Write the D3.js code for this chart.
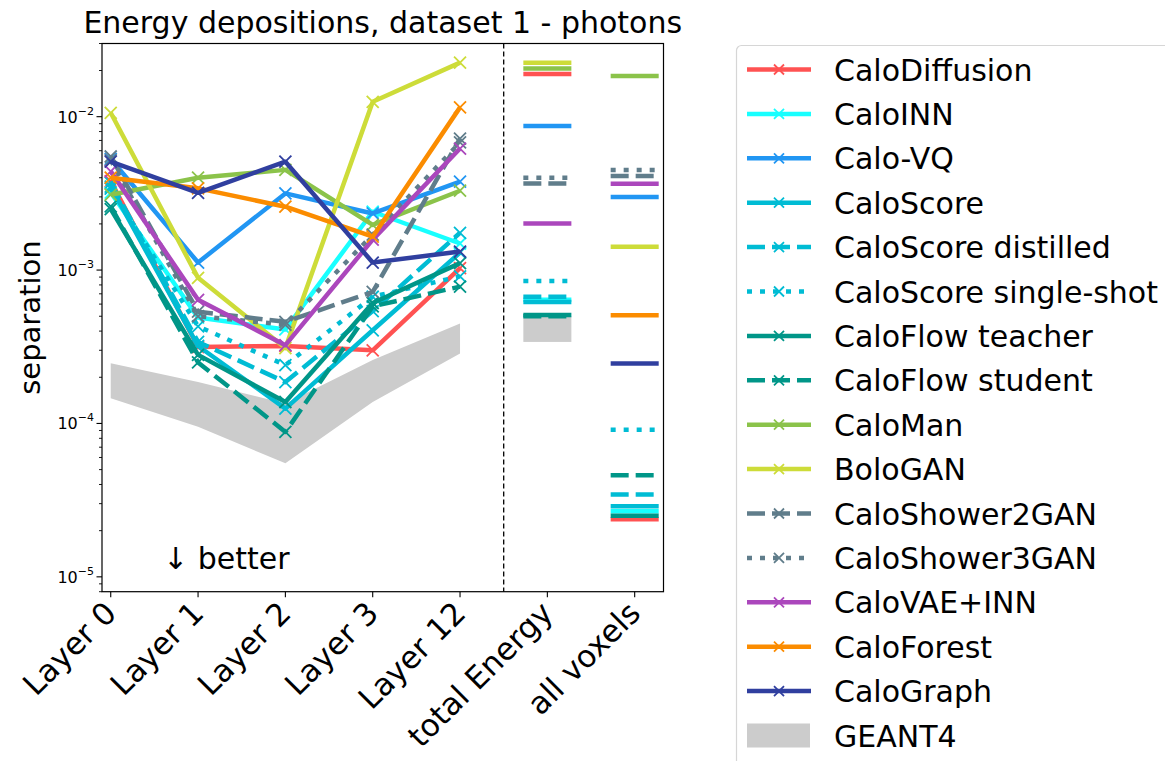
<!DOCTYPE html>
<html><head><meta charset="utf-8">
<script src="https://cdn.jsdelivr.net/npm/d3@7"></script>
<style>body{margin:0;background:#fff;} svg{display:block;font-family:"DejaVu Sans",sans-serif;}</style>
</head><body><svg id="c" width="1165" height="761"></svg>
<script>
const categories = ["Layer 0","Layer 1","Layer 2","Layer 3","Layer 12","total Energy","all voxels"];
const models = ["CaloDiffusion","CaloINN","Calo-VQ","CaloScore","CaloScore distilled","CaloScore single-shot","CaloFlow teacher","CaloFlow student","CaloMan","BoloGAN","CaloShower2GAN","CaloShower3GAN","CaloVAE+INN","CaloForest","CaloGraph"];
const colors = ["#ff5252","#18ffff","#2196f3","#00bcd4","#00bcd4","#00bcd4","#009688","#009688","#8bc34a","#cddc39","#607d8b","#607d8b","#ab47bc","#fb8c00","#303f9f"];
const styles = ["solid","solid","solid","solid","dashed","dotted","solid","dashed","solid","solid","dashed","dotted","solid","solid","solid"];
// values per model: Layer 0, Layer 1, Layer 2, Layer 3, Layer 12, total Energy, all voxels
const caloDiffusion      = [3.8e-3, 3.15e-4, 3.2e-4, 3.0e-4, 1.03e-3, 1.9e-2, 2.37e-5];
const caloINN            = [3.2e-3, 4.9e-4, 4.1e-4, 2.4e-3, 1.49e-3, 6.4e-4, 2.68e-5];
const caloVQ             = [5.3e-3, 1.12e-3, 3.16e-3, 2.34e-3, 3.77e-3, 8.7e-3, 3.0e-3];
const caloScore          = [3.5e-3, 3.2e-4, 1.25e-4, 4.05e-4, 1.3e-3, 6.2e-4, 2.89e-5];
const caloScoreDistilled = [3.7e-3, 3.4e-4, 1.86e-4, 5.4e-4, 1.75e-3, 6.7e-4, 3.44e-5];
const caloScoreSingle    = [3.4e-3, 4.3e-4, 2.4e-4, 6.7e-4, 9.1e-4, 8.5e-4, 9.1e-5];
const caloFlowTeacher    = [2.5e-3, 2.8e-4, 1.38e-4, 6.1e-4, 1.11e-3, 5.1e-4, 2.5e-5];
const caloFlowStudent    = [2.6e-3, 2.5e-4, 8.8e-5, 5.8e-4, 7.8e-4, 5.0e-4, 4.6e-5];
const caloMan            = [3.1e-3, 4.0e-3, 4.5e-3, 1.97e-3, 3.29e-3, 2.06e-2, 1.84e-2];
const boloGAN            = [1.06e-2, 8.9e-4, 3.1e-4, 1.25e-2, 2.25e-2, 2.25e-2, 1.42e-3];
const caloShower2GAN     = [5.5e-3, 5.35e-4, 4.6e-4, 7.2e-4, 7.2e-3, 3.67e-3, 4.1e-3];
const caloShower3GAN     = [5.2e-3, 5.0e-4, 4.4e-4, 1.7e-3, 6.8e-3, 4.0e-3, 4.49e-3];
const caloVAEINN         = [4.4e-3, 6.4e-4, 3.24e-4, 1.58e-3, 6.2e-3, 2.01e-3, 3.66e-3];
const caloForest         = [4.0e-3, 3.41e-3, 2.59e-3, 1.65e-3, 1.15e-2, null, 5.08e-4];
const caloGraph          = [5.1e-3, 3.19e-3, 5.09e-3, 1.12e-3, 1.32e-3, null, 2.46e-4];
const seriesValues = [caloDiffusion, caloINN, caloVQ, caloScore, caloScoreDistilled, caloScoreSingle, caloFlowTeacher, caloFlowStudent, caloMan, boloGAN, caloShower2GAN, caloShower3GAN, caloVAEINN, caloForest, caloGraph];
// GEANT4 reference band: Layer 0..12, total Energy
const geantLower = [1.46e-4, 9.5e-5, 5.5e-5, 1.38e-4, 2.86e-4, 3.4e-4];
const geantUpper = [2.47e-4, 1.86e-4, 1.35e-4, 2.59e-4, 4.49e-4, 5.0e-4];
const yTickValues = [1e-5, 1e-4, 1e-3, 1e-2];
const yTickExps = ["−5","−4","−3","−2"];

const svg = d3.select("#c");
const L = 102, R = 663.5, T = 43.5, B = 591.7;
const x = d3.scaleLinear().domain([-0.1, 6.33]).range([L, R]);
const y = d3.scaleLog().domain([8e-6, 3e-2]).range([B, T]);
const dashFor = s => s === "dashed" ? "18,7" : s === "dotted" ? "5,8" : null;
const LW = 4.5, HW = 0.275;

// GEANT4 band
const nLayers = 5;
const bandData = d3.range(nLayers).map(i => ({i, lo: geantLower[i], hi: geantUpper[i]}));
svg.append("path").datum(bandData)
  .attr("d", d3.area().x(d => x(d.i)).y0(d => y(d.lo)).y1(d => y(d.hi)))
  .attr("fill", "#cccccc");
svg.append("rect").attr("x", x(5 - HW)).attr("width", x(5 + HW) - x(5 - HW))
  .attr("y", y(geantUpper[5])).attr("height", y(geantLower[5]) - y(geantUpper[5]))
  .attr("fill", "#cccccc");

// dashed separator
svg.append("line").attr("x1", x(4.5)).attr("x2", x(4.5)).attr("y1", T).attr("y2", B)
  .attr("stroke", "#000").attr("stroke-width", 1.3).attr("stroke-dasharray", "5,3");

const line = d3.line().x(d => x(d.i)).y(d => y(d.v));
function xMarker(g, cx, cy, col, s) {
  g.append("path").attr("d", `M${cx-s},${cy-s}L${cx+s},${cy+s}M${cx-s},${cy+s}L${cx+s},${cy-s}`)
    .attr("stroke", col).attr("stroke-width", 1.8).attr("fill", "none");
}
models.forEach((m, k) => {
  const vals = seriesValues[k];
  const g = svg.append("g");
  const pts = d3.range(nLayers).map(i => ({i, v: vals[i]}));
  g.append("path").datum(pts).attr("d", line).attr("fill", "none")
    .attr("stroke", colors[k]).attr("stroke-width", LW).attr("stroke-dasharray", dashFor(styles[k]))
    .attr("stroke-linejoin", "round");
  pts.forEach(p => xMarker(g, x(p.i), y(p.v), colors[k], 6));
  [5, 6].forEach(i => {
    if (vals[i] == null) return;
    g.append("line").attr("x1", x(i - HW)).attr("x2", x(i + HW)).attr("y1", y(vals[i])).attr("y2", y(vals[i]))
      .attr("stroke", colors[k]).attr("stroke-width", LW).attr("stroke-dasharray", dashFor(styles[k]));
  });
});

// frame
svg.append("rect").attr("x", L).attr("y", T).attr("width", R - L).attr("height", B - T)
  .attr("fill", "none").attr("stroke", "#000").attr("stroke-width", 1.2);

// y ticks
const minor = [];
[-6,-5,-4,-3,-2].forEach(e => d3.range(2,10).forEach(mm => { const v = mm * Math.pow(10, e); if (v >= 8e-6 && v <= 3e-2) minor.push(v); }));
minor.forEach(v => svg.append("line").attr("x1", L).attr("x2", L - 3).attr("y1", y(v)).attr("y2", y(v)).attr("stroke", "#000").attr("stroke-width", 0.9));
yTickValues.forEach((v, j) => {
  svg.append("line").attr("x1", L).attr("x2", L - 5.5).attr("y1", y(v)).attr("y2", y(v)).attr("stroke", "#000").attr("stroke-width", 1.1);
  const t = svg.append("text").attr("x", L - 8).attr("y", y(v) + 6).attr("text-anchor", "end").attr("font-size", 16);
  t.append("tspan").text("10");
  t.append("tspan").attr("dy", -8).attr("font-size", 11).text(yTickExps[j]);
});
// x ticks
categories.forEach((c, i) => {
  svg.append("line").attr("x1", x(i)).attr("x2", x(i)).attr("y1", B).attr("y2", B + 5.5).attr("stroke", "#000").attr("stroke-width", 1.1);
  svg.append("text").attr("transform", `translate(${x(i) - 9},${B + 7}) rotate(-45)`)
    .attr("text-anchor", "end").attr("dominant-baseline", "hanging").attr("font-size", 31).text(c);
});

svg.append("text").attr("transform", `translate(40,${(T + B) / 2}) rotate(-90)`).attr("text-anchor", "middle")
  .attr("font-size", 29).text("separation");
svg.append("text").attr("x", (L + R) / 2).attr("y", 33).attr("text-anchor", "middle").attr("font-size", 30)
  .text("Energy depositions, dataset 1 - photons");
svg.append("text").attr("x", 163).attr("y", 569).attr("font-size", 30).text("↓  better");

// legend
const lg = svg.append("g");
lg.append("rect").attr("x", 736.5).attr("y", 45.5).attr("width", 460).attr("height", 740).attr("rx", 5)
  .attr("fill", "#fff").attr("stroke", "#d6d6d6").attr("stroke-width", 1.2);
const rowY = i => 69.5 + i * 44.4;
models.forEach((m, k) => {
  const yy = rowY(k);
  lg.append("line").attr("x1", 747).attr("x2", 811).attr("y1", yy).attr("y2", yy)
    .attr("stroke", colors[k]).attr("stroke-width", LW).attr("stroke-dasharray", dashFor(styles[k]));
  xMarker(lg, 779, yy, colors[k], 5);
  lg.append("text").attr("x", 834).attr("y", yy + 11).attr("font-size", 30).text(m);
});
const gy = rowY(models.length);
lg.append("rect").attr("x", 747).attr("y", gy - 12).attr("width", 63).attr("height", 24).attr("fill", "#cccccc");
lg.append("text").attr("x", 834).attr("y", gy + 11).attr("font-size", 30).text("GEANT4");
</script></body></html>
